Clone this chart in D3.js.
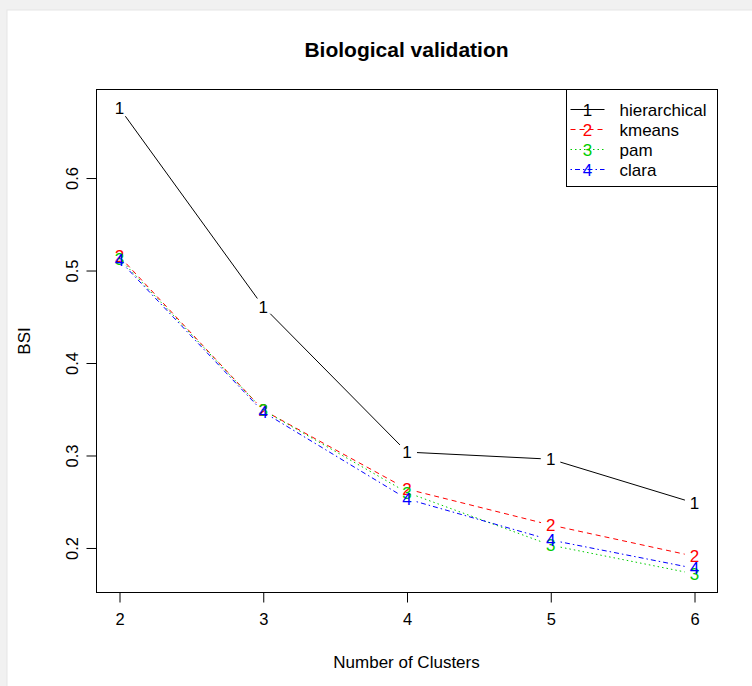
<!DOCTYPE html>
<html>
<head>
<meta charset="utf-8">
<script src="https://cdn.jsdelivr.net/npm/d3@7"></script>
<style>
  html, body { margin: 0; padding: 0; background: #f1f1f1; }
  svg { display: block; }
  text { font-family: "Liberation Sans", Arial, Helvetica, sans-serif; }
</style>
</head>
<body>
<svg id="chart" width="752" height="686"></svg>
<script>
// ---- data ----
const clusters = [2, 3, 4, 5, 6];
const xTicks = [2, 3, 4, 5, 6];
const yTicks = [0.2, 0.3, 0.4, 0.5, 0.6];
const seriesNames = ["hierarchical", "kmeans", "pam", "clara"];
const seriesSymbols = ["1", "2", "3", "4"];
const hierarchical = [0.6756, 0.461, 0.3037, 0.296, 0.2486];
const kmeans = [0.5153, 0.349, 0.2637, 0.2248, 0.191];
const pam = [0.513, 0.349, 0.260, 0.203, 0.172];
const clara = [0.511, 0.347, 0.253, 0.2086, 0.178];

// ---- styles ----
const colors = ["#000000", "#ff0000", "#00cd00", "#0000ff"];
const dashes = [null, "5,4", "1.5,3", "1.5,3,5,3"];
const allSeries = [hierarchical, kmeans, pam, clara];

const svg = d3.select("#chart");

// white page panel
svg.append("rect").attr("x", 7).attr("y", 10).attr("width", 760).attr("height", 700)
  .attr("fill", "#fff").attr("stroke", "#e6e6e6").attr("stroke-width", 1);

const plot = { left: 96.5, right: 717.5, top: 89.5, bottom: 592.5 };

// R-style 4% padding
const xmin = d3.min(clusters), xmax = d3.max(clusters);
const xpad = (xmax - xmin) * 0.04;
const allVals = allSeries.flat();
const ymin = d3.min(allVals), ymax = d3.max(allVals);
const ypad = (ymax - ymin) * 0.04;

const x = d3.scaleLinear().domain([xmin - xpad, xmax + xpad]).range([plot.left, plot.right]);
const y = d3.scaleLinear().domain([ymin - ypad, ymax + ypad]).range([plot.bottom, plot.top]);

const baseFont = 17;
const tickFont = 16.5;

// title
svg.append("text").attr("x", (plot.left + plot.right) / 2 - 0.5).attr("y", 57)
  .attr("text-anchor", "middle").attr("font-weight", "bold").attr("font-size", 21)
  .attr("fill", "#000").text("Biological validation");

// axes
const xAxis = d3.axisBottom(x).tickValues(xTicks).tickSize(10).tickPadding(11).tickFormat(d3.format("d"));
const gx = svg.append("g").attr("transform", `translate(0,${plot.bottom})`).call(xAxis);
gx.select(".domain").attr("stroke", "none");
gx.selectAll(".tick line").attr("stroke", "#000");
gx.selectAll(".tick text").attr("font-size", tickFont).attr("font-family", "Liberation Sans, Arial, sans-serif").attr("fill", "#000");

const yAxis = d3.axisLeft(y).tickValues(yTicks).tickSize(10).tickFormat(d3.format(".1f"));
const gy = svg.append("g").attr("transform", `translate(${plot.left},0)`).call(yAxis);
gy.select(".domain").attr("stroke", "none");
gy.selectAll(".tick line").attr("stroke", "#000");
gy.selectAll(".tick text")
  .attr("font-size", tickFont).attr("font-family", "Liberation Sans, Arial, sans-serif").attr("fill", "#000")
  .attr("text-anchor", "middle").attr("x", null)
  .attr("transform", "translate(-24,0) rotate(-90)")
  .attr("dy", "0.36em");

// plot box
svg.append("rect").attr("x", plot.left).attr("y", plot.top)
  .attr("width", plot.right - plot.left).attr("height", plot.bottom - plot.top)
  .attr("fill", "none").attr("stroke", "#000").attr("stroke-width", 1);

// axis labels
svg.append("text").attr("x", (plot.left + plot.right) / 2 - 0.5).attr("y", 668)
  .attr("text-anchor", "middle").attr("font-size", baseFont).text("Number of Clusters");
svg.append("text").attr("transform", `translate(30,${(plot.top + plot.bottom) / 2}) rotate(-90)`)
  .attr("text-anchor", "middle").attr("font-size", baseFont).text("BSI");

// series (type = "b": lines with gaps around the symbols)
const gap = 10;
allSeries.forEach((vals, si) => {
  const pts = clusters.map((c, i) => [x(c), y(vals[i])]);
  const g = svg.append("g");
  for (let i = 0; i < pts.length - 1; i++) {
    const [x0, y0] = pts[i], [x1, y1] = pts[i + 1];
    const dx = x1 - x0, dy = y1 - y0, len = Math.hypot(dx, dy);
    if (len <= 2 * gap) continue;
    const ux = dx / len, uy = dy / len;
    g.append("line")
      .attr("x1", x0 + ux * gap).attr("y1", y0 + uy * gap)
      .attr("x2", x1 - ux * gap).attr("y2", y1 - uy * gap)
      .attr("stroke", colors[si]).attr("stroke-width", 1)
      .attr("stroke-dasharray", dashes[si]);
  }
  g.selectAll("text.sym").data(pts).enter().append("text")
    .attr("class", "sym")
    .attr("x", d => d[0]).attr("y", d => d[1]).attr("dy", "0.36em")
    .attr("text-anchor", "middle").attr("font-size", baseFont)
    .attr("fill", colors[si]).text(seriesSymbols[si]);
});

// legend (topright)
const legW = 151, legH = 97;
const lg = svg.append("g").attr("transform", `translate(${plot.right - legW},${plot.top})`);
lg.append("rect").attr("width", legW).attr("height", legH)
  .attr("fill", "#fff").attr("stroke", "#000").attr("stroke-width", 1);
seriesNames.forEach((name, i) => {
  const ry = 20 + i * 20;
  lg.append("line").attr("x1", 4).attr("x2", 38).attr("y1", ry).attr("y2", ry)
    .attr("stroke", colors[i]).attr("stroke-width", 1).attr("stroke-dasharray", dashes[i]);
  lg.append("text").attr("x", 21).attr("y", ry).attr("dy", "0.36em")
    .attr("text-anchor", "middle").attr("font-size", baseFont).attr("fill", colors[i])
    .text(seriesSymbols[i]);
  lg.append("text").attr("x", 53).attr("y", ry).attr("dy", "0.36em")
    .attr("font-size", baseFont).attr("fill", "#000").text(name);
});
</script>
</body>
</html>
